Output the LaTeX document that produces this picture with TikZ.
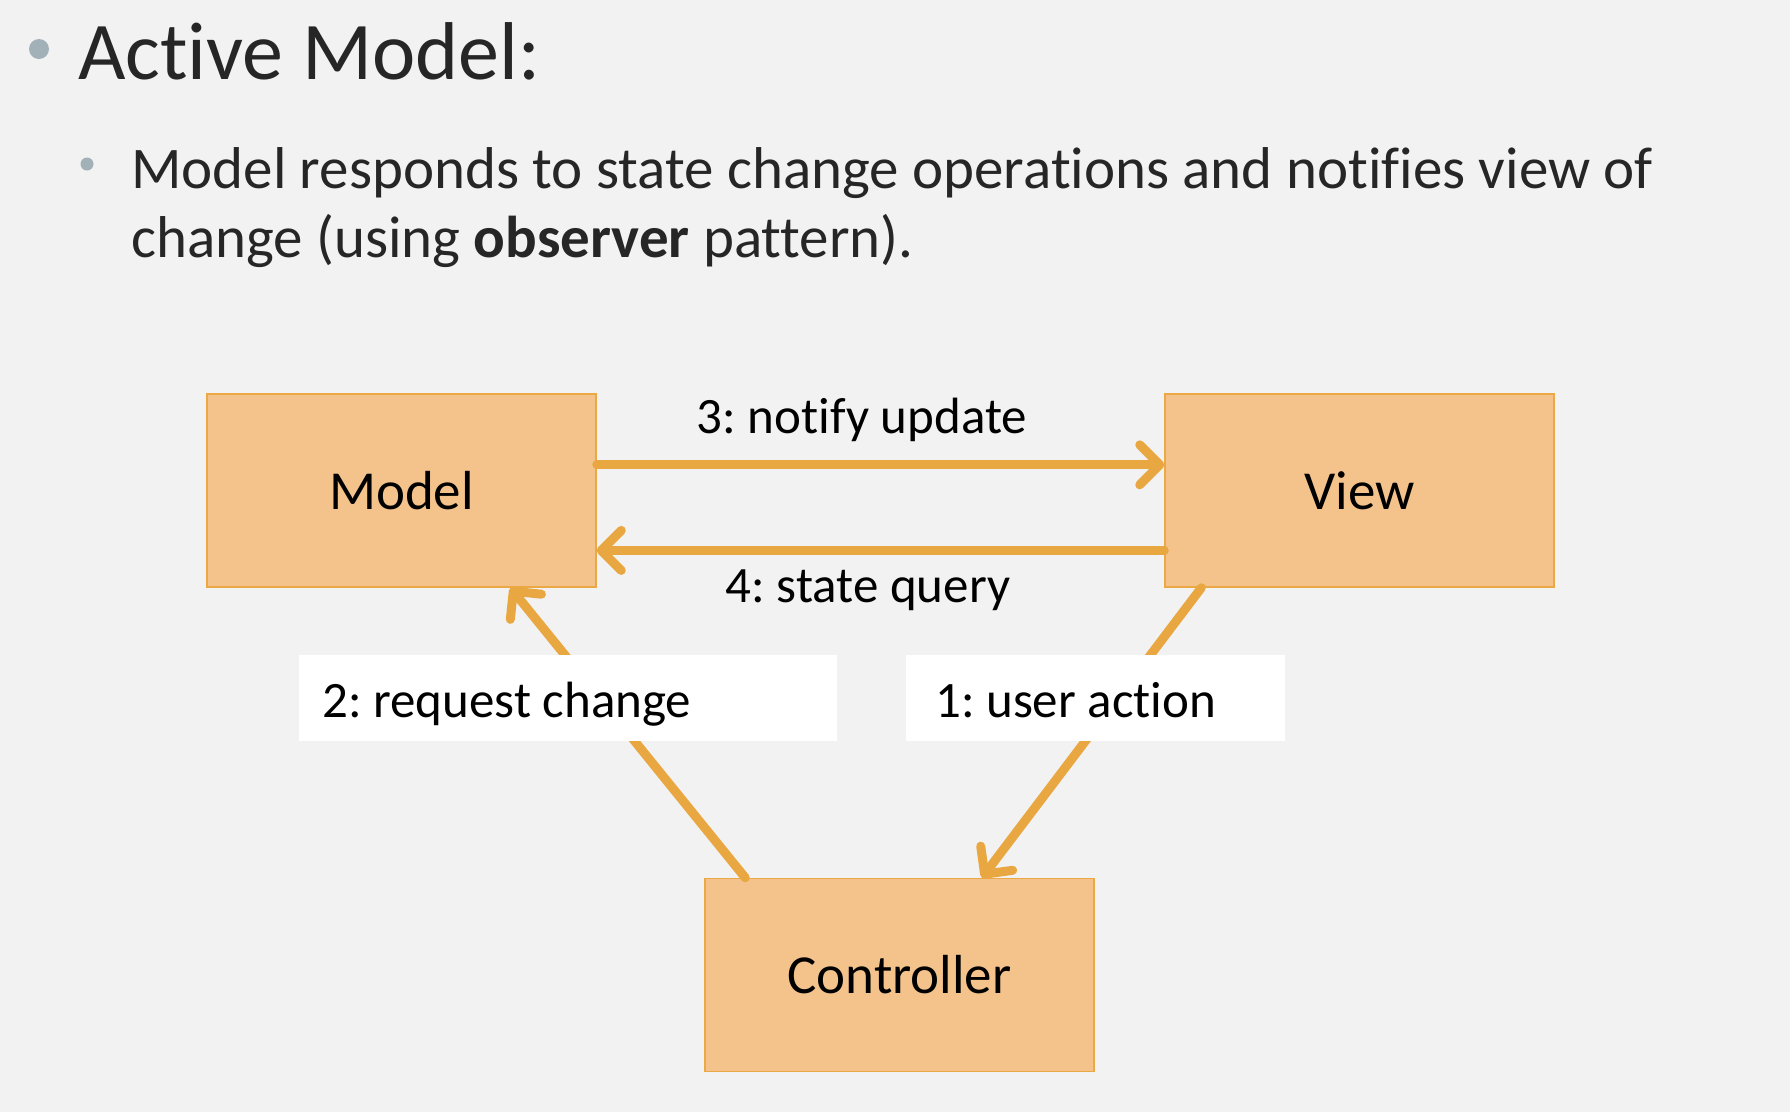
\documentclass[tikz,border=0pt]{standalone}
\usepackage{fontspec}
\setmainfont{Carlito}[Ligatures=NoCommon]
\usetikzlibrary{arrows.meta,calc}
\frenchspacing
\definecolor{bg}{HTML}{F2F2F2}
\definecolor{boxfill}{HTML}{F4C38C}
\definecolor{boxline}{HTML}{EBA844}
\definecolor{arr}{HTML}{E9A741}
\definecolor{bul}{HTML}{A2B0B8}
\definecolor{txt}{HTML}{262626}
\tikzset{
  blockbox/.style={draw=boxline, line width=1.5pt, fill=boxfill, minimum width=389pt, minimum height=193pt, inner sep=0pt, font=\fontsize{55}{55}\selectfont, text=black},
  conn/.style={draw=arr, line width=9pt, line cap=round, line join=round, -{Straight Barb[length=20pt,width=40pt,line cap=round,line join=round]}},
  lbl/.style={font=\fontsize{51}{51}\selectfont, text=black, inner sep=0pt},
  lblbox/.style={fill=white, minimum height=86pt, inner sep=0pt},
}
\begin{document}
\begin{tikzpicture}[x=1pt,y=-1pt]
\useasboundingbox[fill=bg] (0,0) rectangle (1790,1112);
% bullets and text
\fill[bul] (39,49) circle (10);
\node[anchor=base west, inner sep=0pt, text=txt, font=\fontsize{82}{82}\selectfont] (title) at (78,79) {Active Model:};
\fill[bul] (87,164) circle (6.5);
\node[anchor=base west, inner sep=0pt, text=txt, font=\fontsize{59}{59}\selectfont] (l1) at (131,188) {Model responds to state change operations and notifies view of};
\node[anchor=base west, inner sep=0pt, text=txt, font=\fontsize{59}{59}\selectfont] (l2) at (131,257) {change (using \textbf{observer} pattern).};
% boxes
\node[blockbox] (model) at (401.5,490.5) {Model};
\node[blockbox] (view) at (1359.5,490.5) {View};
\node[blockbox] (ctrl) at (899.5,975) {Controller};
% horizontal arrows
\coordinate (m3) at ($(model.north east)!0.368!(model.south east)$);
\coordinate (m4) at ($(model.north east)!0.808!(model.south east)$);
\draw[conn] (m3) -- (m3 -| view.west);
\draw[conn] (m4 -| view.west) -- (m4);
% diagonal arrows
\coordinate (c2) at ($(ctrl.north west)!0.105!(ctrl.north east)$);
\coordinate (mb) at ($(model.south west)!0.779!(model.south east)$);
\coordinate (vb) at ($(view.south west)!0.095!(view.south east)$);
\coordinate (c1) at ($(ctrl.north west)!0.711!(ctrl.north east)$);
\draw[conn] (c2) -- (mb);
\draw[conn] (vb) -- (c1);
% label boxes
\node[lblbox, minimum width=538pt] (b2) at (568,698) {};
\node[lblbox, minimum width=379pt] (b1) at (1095.5,697.5) {};
\node[lbl, anchor=base west] (t2) at (322,717) {2: request change};
\node[lbl, anchor=base west] (t1) at (935,717) {1: user action};
\node[lbl, anchor=base] (t3) at (862,433) {3: notify update};
\node[lbl, anchor=base] (t4) at (868,602) {4: state query};
\end{tikzpicture}
\end{document}
